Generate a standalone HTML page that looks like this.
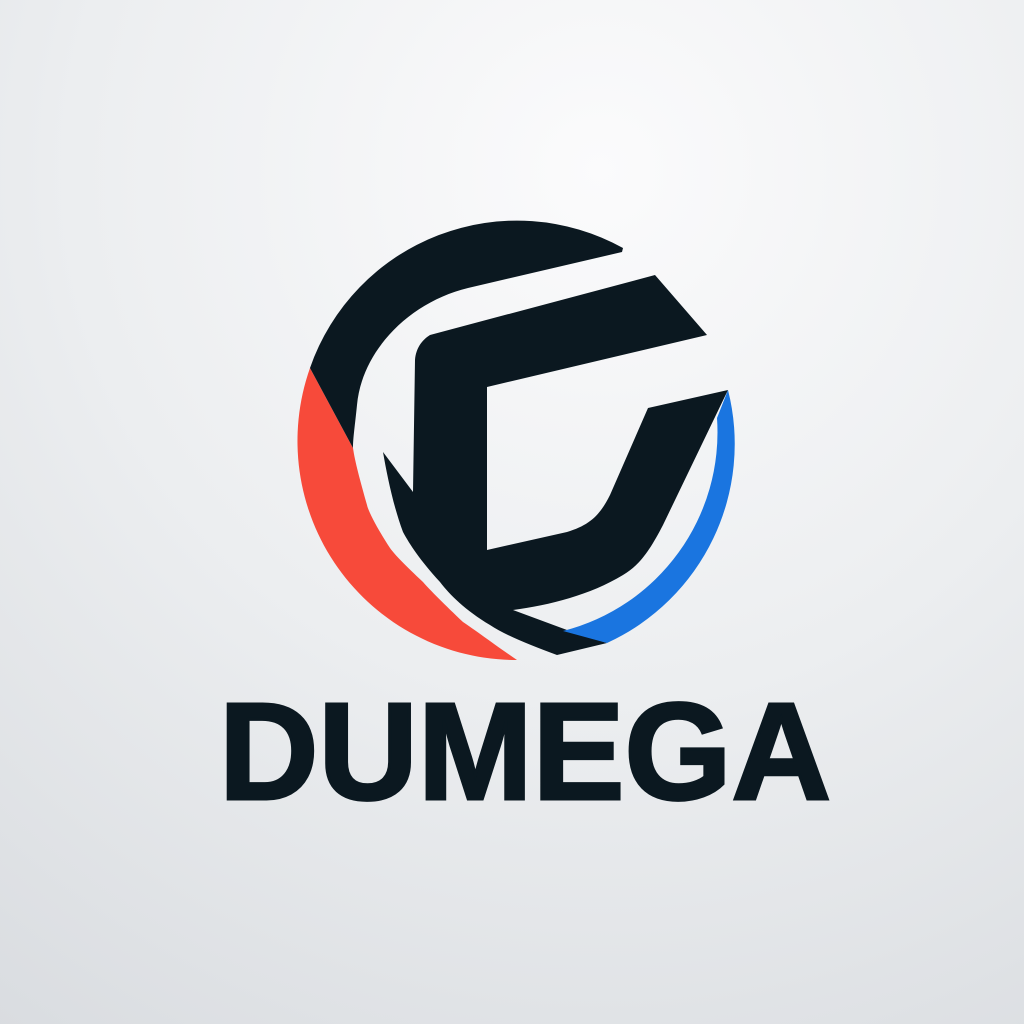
<!DOCTYPE html>
<html><head><meta charset="utf-8"><style>
html,body{margin:0;padding:0;width:1024px;height:1024px;overflow:hidden}
</style></head><body>
<svg width="1024" height="1024" viewBox="0 0 1024 1024">
<defs>
<radialGradient id="bg" cx="600" cy="170" r="1050" gradientUnits="userSpaceOnUse">
<stop offset="0" stop-color="#fbfbfc"/><stop offset="0.5" stop-color="#eceef0"/><stop offset="1" stop-color="#d9dce0"/>
</radialGradient>
</defs>
<rect width="1024" height="1024" fill="url(#bg)"/>
<g>
<path fill="#f74a3a" d="M310,368 A219,219 0 0 0 517,660 C495,645 475,630 463,622 C445,605 430,590 423,582 C405,565 395,555 390,548 C375,525 368,510 367,505 C360,480 355,462 353,448 Z"/>
<path fill="#0b1820" d="M310,368 A219,219 0 0 1 623,248 L622,252 L468,288 C410,302 362,350 357,405 C355,425 353,438 353,448 Z"/>
<path fill="#0b1820" d="M430,335 L655,275 L707,335 L487,387 L487,550 L567,532 C590,525 600,515 610,495 L648,408 L728,390 L663,525 C650,550 640,565 623,575 C590,595 550,605 513,610 L567,630 L607,643 L557,655 C530,645 505,635 490,625 C465,610 450,595 440,582 C420,560 410,545 403,532 C393,505 387,475 383,452 L413,492 L415,360 C416,348 422,340 430,335 Z"/>
<path fill="#1a75e0" d="M728,390 A219,219 0 0 1 607,643 L563,631 A205,205 0 0 0 717,418 Z"/>
</g>
<text x="525" y="799" text-anchor="middle" font-family="Liberation Sans, sans-serif" font-weight="bold" font-size="138" fill="#0b1820" stroke="#0b1820" stroke-width="3" textLength="612" lengthAdjust="spacingAndGlyphs">DUMEGA</text>
</svg>
</body></html>
